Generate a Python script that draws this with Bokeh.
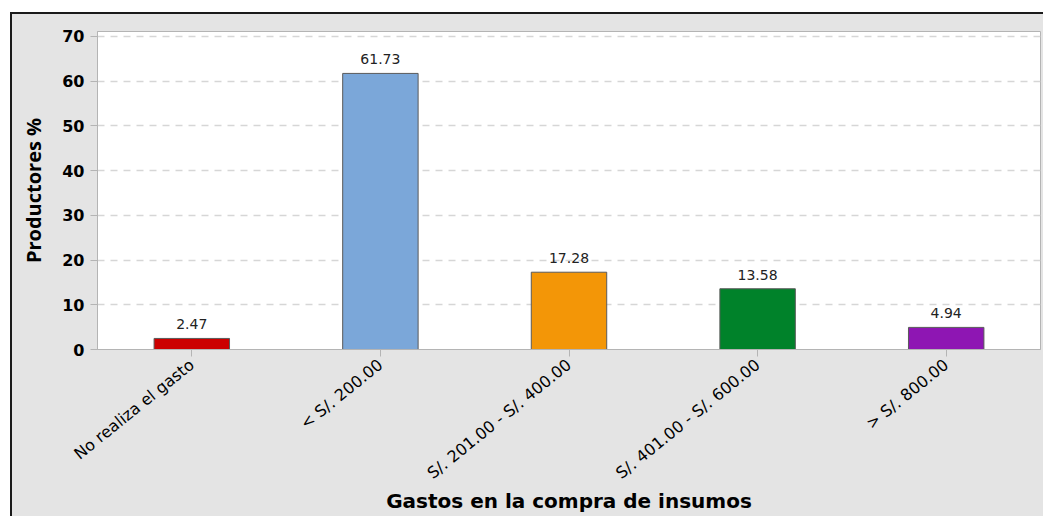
from bokeh.plotting import figure
from bokeh.models import ColumnDataSource, LabelSet, FactorRange, Range1d, FixedTicker
from bokeh.core.properties import value
from bokeh.embed import file_html
from bokeh.resources import INLINE

categories = ["No realiza el gasto", "< S/. 200.00", "S/. 201.00 - S/. 400.00",
              "S/. 401.00 - S/. 600.00", "> S/. 800.00"]
values = [2.47, 61.73, 17.28, 13.58, 4.94]
labels = ["2.47", "61.73", "17.28", "13.58", "4.94"]
colors = ["#cc0000", "#7ba7d9", "#f39607", "#00822a", "#8e16b3"]
y_ticks = [0, 10, 20, 30, 40, 50, 60, 70]

src = ColumnDataSource(dict(cat=categories, val=values, lab=labels, col=colors))

FONT = "DejaVu Sans"
p = figure(x_range=FactorRange(*categories, range_padding=0), y_range=Range1d(0, 71.1),
           width=1043, height=516, output_backend="svg", toolbar_location=None,
           min_border_left=97, min_border_top=31, min_border_right=3, min_border_bottom=166)
p.background_fill_color = "white"
p.border_fill_alpha = 0
p.outline_line_color = "#b4b4b4"
# white margin, black frame and grey panel behind the canvas
p.styles = {
    "background": ("linear-gradient(#1a1a1a,#1a1a1a) 10px 12px / 100% 2px no-repeat, "
                   "linear-gradient(#1a1a1a,#1a1a1a) 10px 12px / 2px 100% no-repeat, "
                   "linear-gradient(#e4e4e4,#e4e4e4) 10px 12px / 100% 100% no-repeat, white"),
}

p.vbar(x="cat", top="val", width=0.4, source=src, fill_color="col",
       line_color="#5a5a5a", line_width=1)

p.add_layout(LabelSet(x="cat", y="val", text="lab", source=src, y_offset=9,
                      text_align="center", text_baseline="bottom",
                      text_font=value(FONT), text_font_size="14px", text_color="#222222"))

p.xgrid.grid_line_color = None
p.ygrid.grid_line_color = "#d6d6d6"
p.ygrid.grid_line_dash = "7 6"
p.ygrid.grid_line_width = 1.5

p.yaxis.ticker = FixedTicker(ticks=y_ticks)
p.yaxis.minor_tick_line_color = None
for ax in (p.xaxis[0], p.yaxis[0]):
    ax.axis_line_color = "#b4b4b4"
    ax.major_tick_line_color = "#b4b4b4"
    ax.major_tick_out = 7
    ax.major_tick_in = 0
    ax.major_label_text_font = FONT
    ax.major_label_text_color = "black"
    ax.axis_label_text_color = "black"

p.yaxis.major_label_text_font_size = "16px"
p.yaxis.major_label_text_font_style = "bold"
p.yaxis.major_label_standoff = 6
p.yaxis.axis_label = "Productores %"
p.yaxis.axis_label_text_font = "Open Sans"
p.yaxis.axis_label_text_font_size = "20px"
p.yaxis.axis_label_text_font_style = "bold"
p.yaxis.axis_label_standoff = 12

p.xaxis.major_label_orientation = 0.68
p.xaxis.major_label_text_font_size = "16px"
p.xaxis.major_label_standoff = 6
p.xaxis.axis_label = "Gastos en la compra de insumos"
p.xaxis.axis_label_text_font = FONT
p.xaxis.axis_label_text_font_size = "20px"
p.xaxis.axis_label_text_font_style = "bold"
p.xaxis.axis_label_standoff = -4

open("out.html", "w").write(file_html(p, INLINE))
